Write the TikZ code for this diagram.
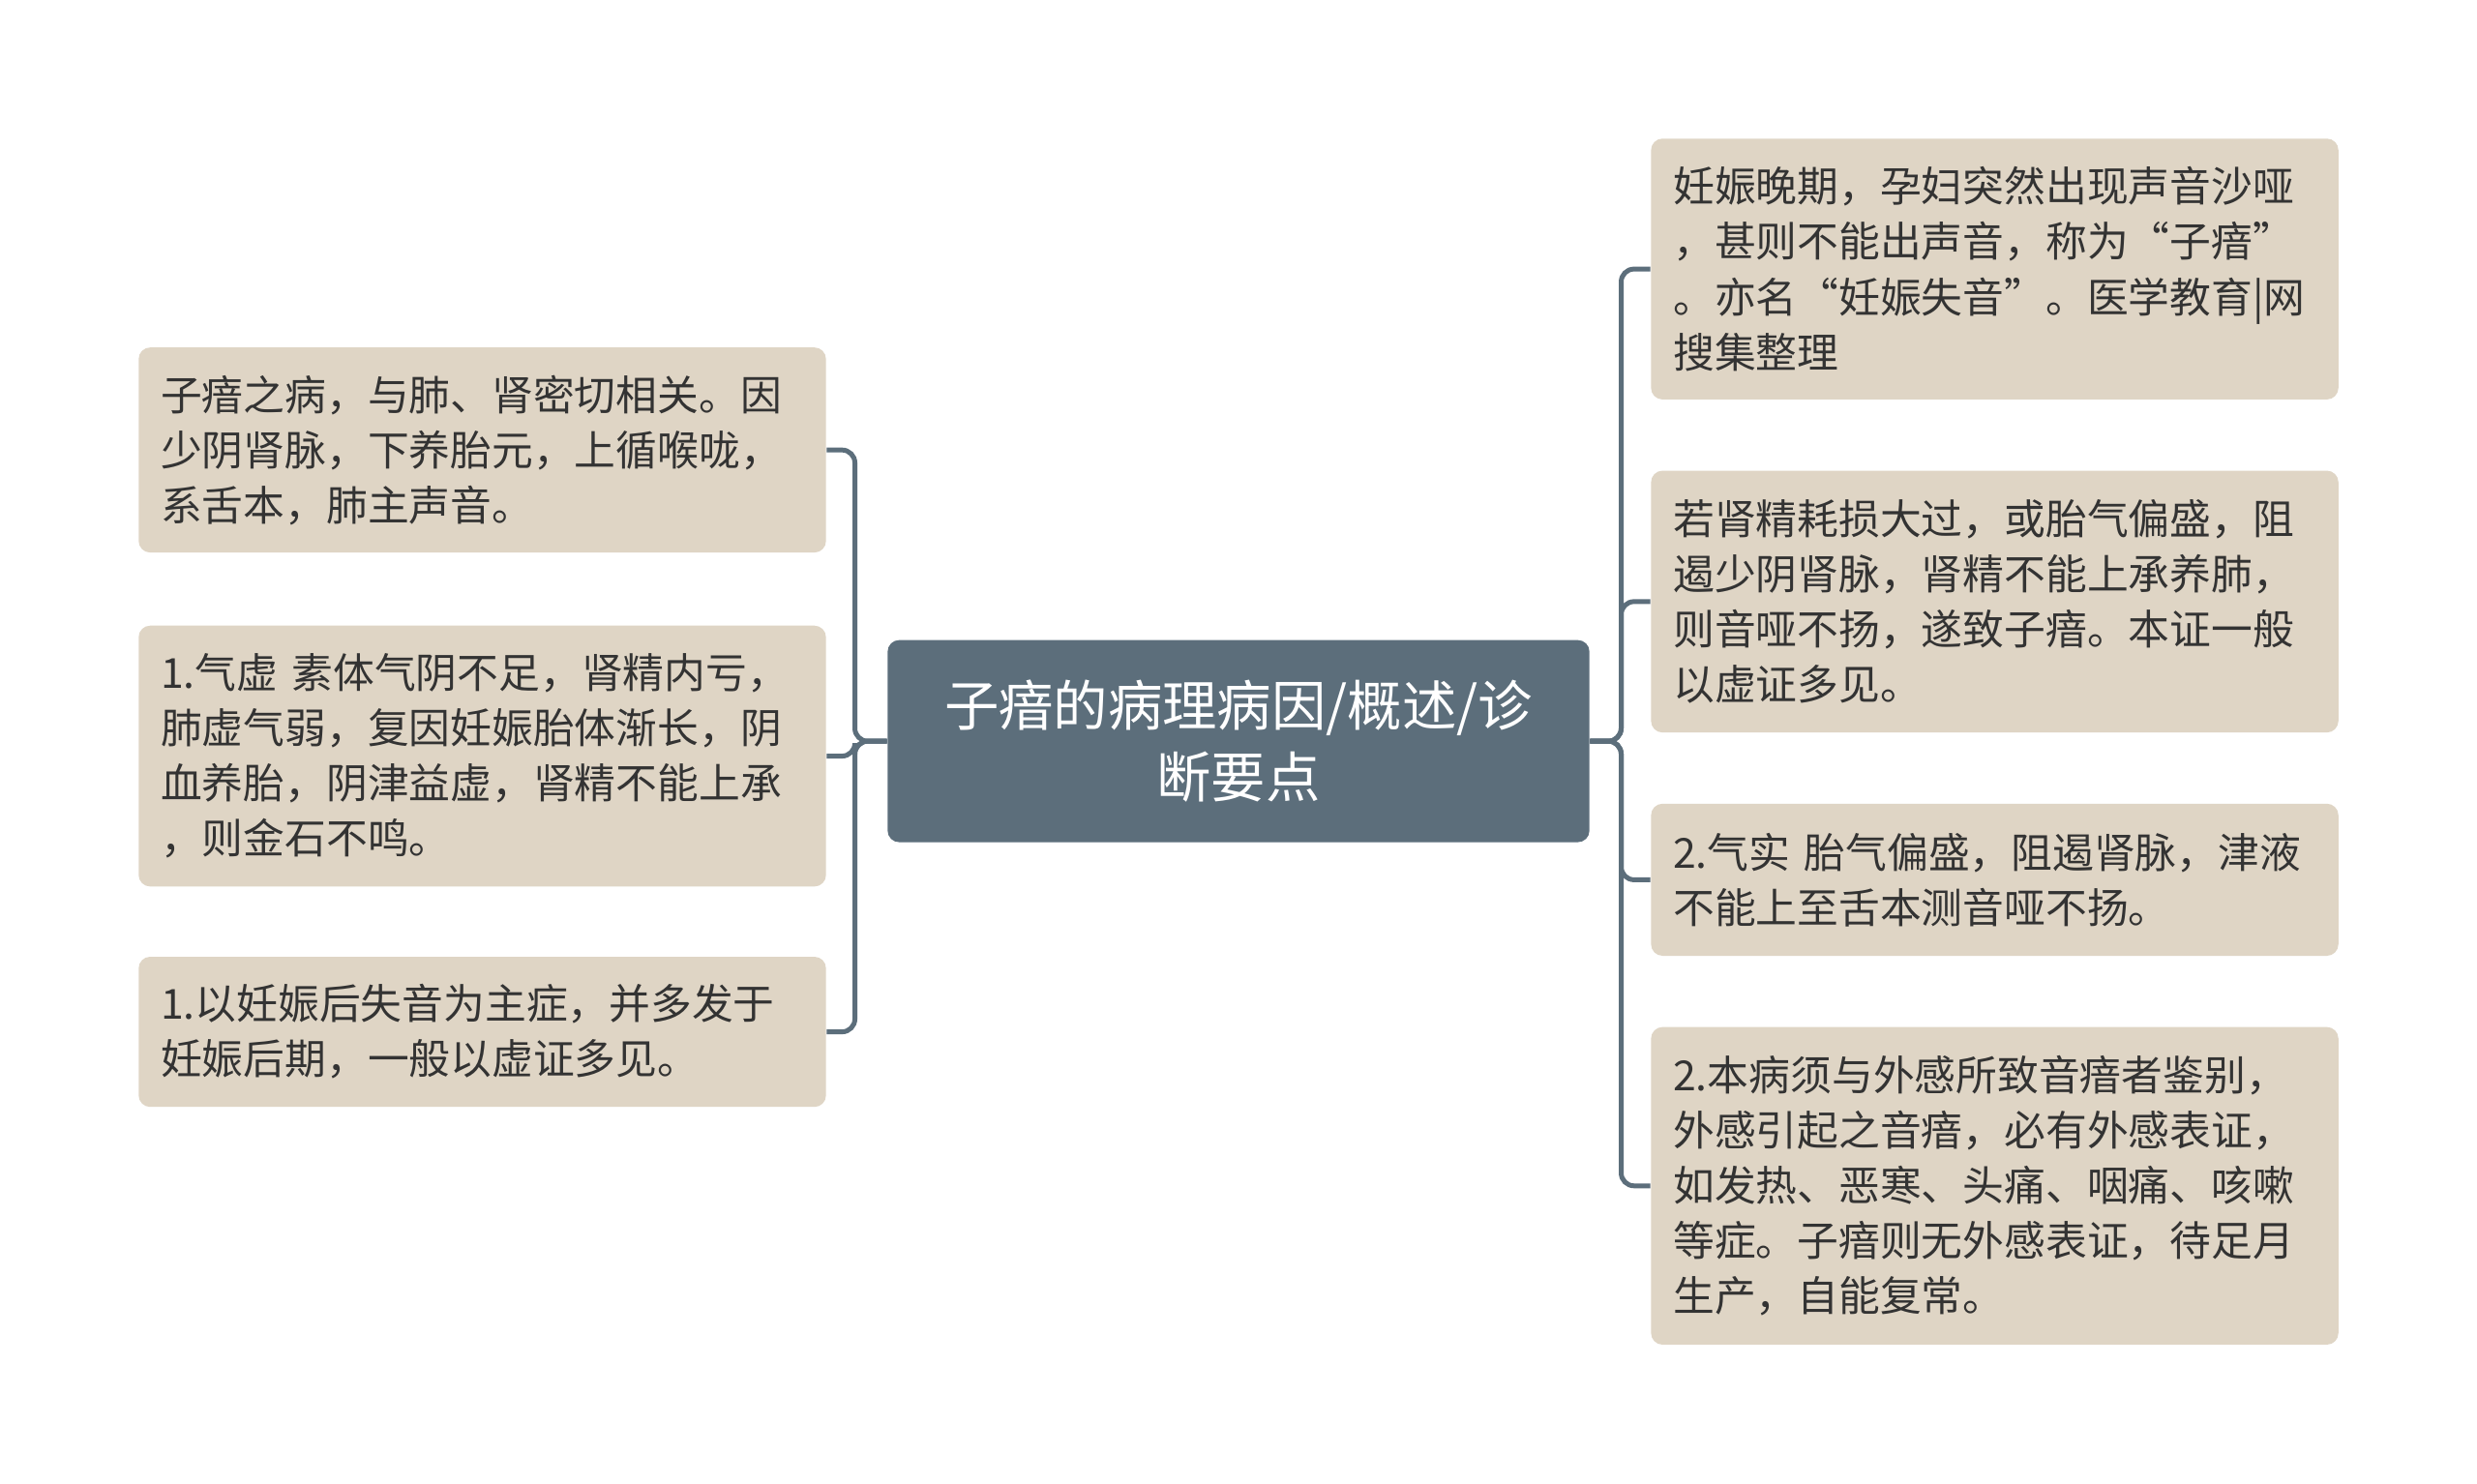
\documentclass[tikz,border=0pt]{standalone}
\usepackage{fontspec}
\setmainfont{Noto Sans CJK SC}
\definecolor{leaffill}{HTML}{DFD5C5}
\definecolor{rootfill}{HTML}{5C6E7B}
\definecolor{linecol}{HTML}{5C6E7B}
\definecolor{txt}{HTML}{333333}
\begin{document}
\begin{tikzpicture}[x=0.3pt,y=-0.3pt,
  leaf/.style={draw=none,fill=leaffill,rounded corners=3.6pt,inner sep=0pt,
    minimum width=214.2pt,text width=200.4pt,align=left,text=txt,
    font=\fontsize{12.9pt}{17.2pt}\selectfont},
  root/.style={draw=none,fill=rootfill,rounded corners=3.6pt,inner sep=0pt,
    minimum width=218.7pt,minimum height=63pt,text width=210pt,align=center,text=white,
    font=\fontsize{17pt}{22.2pt}\selectfont},
  conn/.style={draw=linecol,line width=1.5pt,rounded corners=4pt}]
\fill[white] (0,0) rectangle (2573,1541);
\useasboundingbox (0,0) rectangle (2573,1541);
\node[root] (C) at (1286.5,770) {子瘖的病理病因/概述/诊\\断要点};
\node[leaf,minimum height=63.9pt] (L1) at (501,467.5) {子瘖之病，与肺、肾密切相关。因\\少阴肾脉，下养胎元，上循喉咙，\\系舌本，肺主声音。};
\node[leaf,minimum height=81.3pt] (L2) at (501,785.5) {1.气虚 素体气阴不足，肾精内亏，\\肺虚气弱，复因妊娠胎体渐长，阴\\血养胎，阴津益虚，肾精不能上承\\，则金石不鸣。};
\node[leaf,minimum height=46.8pt] (L3) at (501,1072) {1.以妊娠后失音为主症，并多发于\\妊娠后期，一般以虚证多见。};
\node[leaf,minimum height=81.3pt] (R1) at (2072,279.5) {妊娠晚期，孕妇突然出现声音沙哑\\，甚则不能出声音，称为“子瘖”\\。亦名“妊娠失音”。医学教育|网\\搜集整理};
\node[leaf,minimum height=81.6pt] (R2) at (2072,625) {若肾精耗损大过，或胎气偏盛，阻\\遏少阴肾脉，肾精不能上承养肺，\\则音哑不扬，遂致子瘖。本证一般\\以虚证多见。};
\node[leaf,minimum height=47.4pt] (R3) at (2072,914) {2.气实 胎气偏盛，阻遏肾脉，津液\\不能上至舌本测音哑不扬。};
\node[leaf,minimum height=99pt] (R4) at (2072,1232) {2.本病须与外感所致音瘖者鉴别，\\外感引起之音瘖，必有外感表证，\\如发热、恶寒、头痛、咽痛、咳嗽\\等症。子瘖则无外感表证，待足月\\生产，自能复常。};
\coordinate (lt) at (888,770);
\coordinate (rt) at (1684,770);
\draw[conn] (C.west) -- (lt) |- (L1.east);
\draw[conn] (C.west) -- (lt) |- (L2.east);
\draw[conn] (C.west) -- (lt) |- (L3.east);
\draw[conn] (C.east) -- (rt) |- (R1.west);
\draw[conn] (C.east) -- (rt) |- (R2.west);
\draw[conn] (C.east) -- (rt) |- (R3.west);
\draw[conn] (C.east) -- (rt) |- (R4.west);
\end{tikzpicture}
\end{document}
